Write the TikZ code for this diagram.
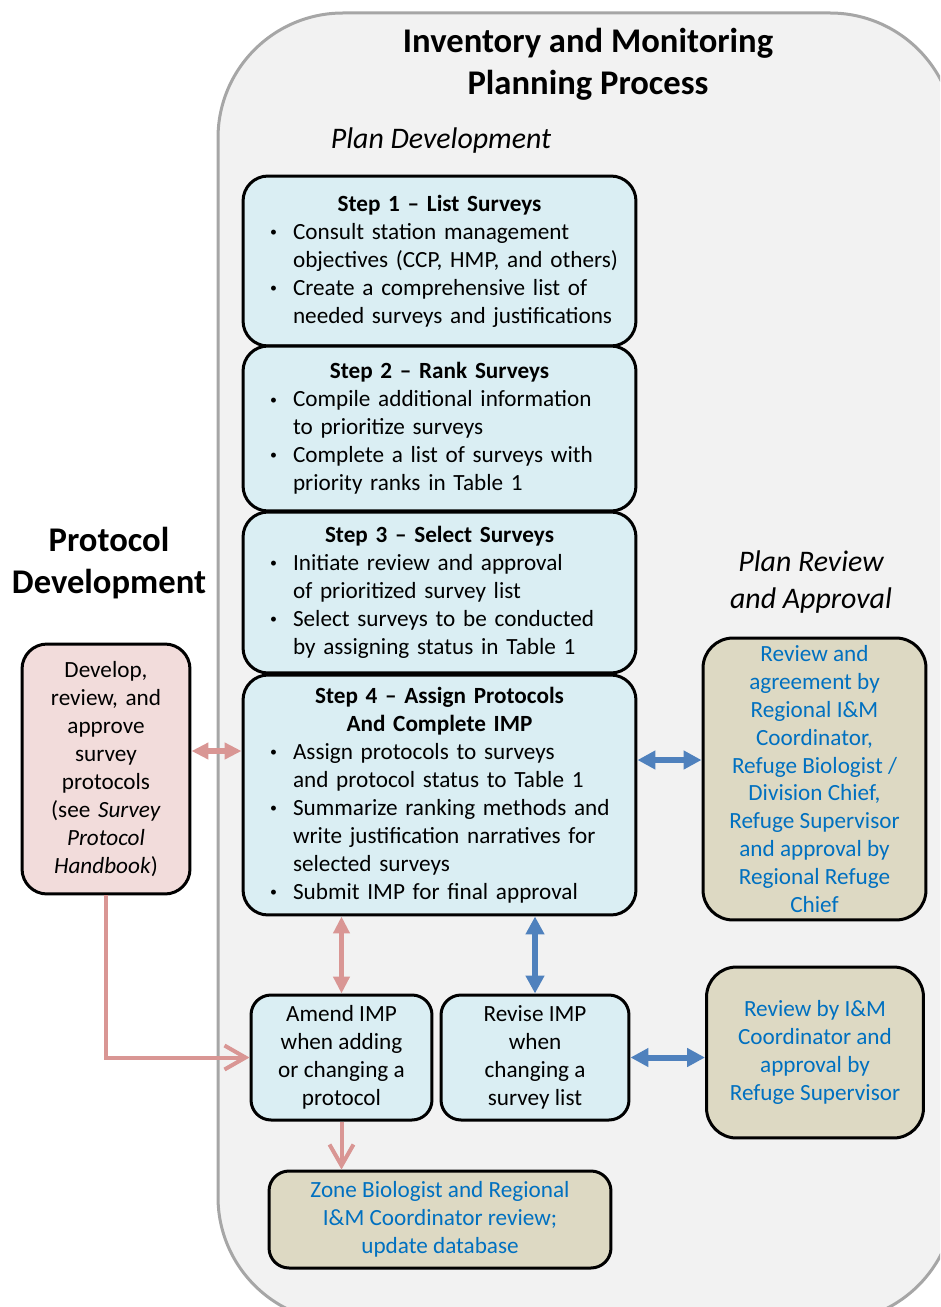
\documentclass[tikz,border=0pt]{standalone}
\usepackage{fontspec}
\setmainfont{Carlito}
\usepackage{enumitem}
\usetikzlibrary{arrows.meta}
\definecolor{panelgray}{RGB}{242,242,242}
\definecolor{panelline}{RGB}{166,166,166}
\definecolor{stepblue}{RGB}{218,238,243}
\definecolor{protpink}{RGB}{242,220,219}
\definecolor{reviewtan}{RGB}{221,217,195}
\definecolor{arrowpink}{RGB}{217,150,148}
\definecolor{arrowblue}{RGB}{79,129,189}
\definecolor{textblue}{RGB}{0,112,192}
\newcommand{\bodyfont}{\fontsize{13.2}{15.9}\selectfont}
\newcommand{\steptitle}[1]{{\centering\bfseries #1\par}}
\newcommand{\smallbullet}{\raisebox{0.12em}{\scalebox{0.6}{\textbullet}}}
\setlist[itemize]{label=\smallbullet, nosep, leftmargin=0.7cm, labelwidth=0.2cm, labelsep=0.26cm, align=left}

\begin{document}
\begin{tikzpicture}[x=0.02cm, y=-0.02cm,
    stepbox/.style={draw, line width=0.06cm, rounded corners=0.5cm, fill=stepblue,
        minimum width=7.86cm, text width=7.26cm, inner xsep=0.3cm, inner ysep=0pt, font=\bodyfont},
    protbox/.style={draw, line width=0.06cm, rounded corners=0.5cm, fill=protpink,
        minimum width=3.36cm, minimum height=5cm, text width=3cm, align=center, font=\bodyfont},
    reviewbox/.style={draw, line width=0.06cm, rounded corners=0.6cm, fill=reviewtan,
        text=textblue, align=center, font=\bodyfont},
    smallbox/.style={draw, line width=0.06cm, rounded corners=0.4cm, fill=stepblue,
        minimum height=2.5cm, align=center, font=\bodyfont},
    pinkdbl/.style={arrowpink, line width=0.11cm,
        {Triangle[length=0.34cm, width=0.32cm]}-{Triangle[length=0.34cm, width=0.32cm]}},
    bluedbl/.style={arrowblue, line width=0.12cm,
        {Triangle[length=0.36cm, width=0.36cm]}-{Triangle[length=0.36cm, width=0.36cm]}},
    pinkarrow/.style={arrowpink, line width=0.08cm, -{Straight Barb[length=0.42cm, width=0.48cm]}},
    heading/.style={font=\fontsize{19.7}{23.9}\selectfont\bfseries, align=center},
    sublabel/.style={font=\fontsize{17}{21}\selectfont\itshape, align=center}]

    \pgfmathsetmacro{\leftCol}{106}
    \pgfmathsetmacro{\stepCol}{439.5}
    \pgfmathsetmacro{\rightCol}{815}

    \clip (0,0) rectangle (940,1307);

    % gray panel behind the planning process
    \draw[panelline, fill=panelgray, line width=0.06cm, rounded corners=2.5cm] (218,13) rectangle (955,1322);

    \node[heading] (title) at (588, 64) {Inventory and Monitoring\\Planning Process};
    \node[sublabel] (plandev) at (441, 141) {Plan Development};
    \node[heading] (protlabel) at (109, 563) {Protocol\\Development};
    \node[sublabel] (reviewlabel) at (811, 582) {Plan Review\\and Approval};

    % the four steps
    \node[stepbox, minimum height=3.4cm] (step1) at (\stepCol, 261) {\steptitle{Step 1 – List Surveys}
        \begin{itemize}
            \item Consult station management\\objectives (CCP, HMP, and others)
            \item Create a comprehensive list of\\needed surveys and justifications
        \end{itemize}};
    \node[stepbox, minimum height=3.3cm] (step2) at (\stepCol, 428.5) {\steptitle{Step 2 – Rank Surveys}
        \begin{itemize}
            \item Compile additional information\\to prioritize surveys
            \item Complete a list of surveys with\\priority ranks in Table 1
        \end{itemize}};
    \node[stepbox, minimum height=3.22cm] (step3) at (\stepCol, 592.5) {\steptitle{Step 3 – Select Surveys}
        \begin{itemize}
            \item Initiate review and approval\\of prioritized survey list
            \item Select surveys to be conducted\\by assigning status in Table 1
        \end{itemize}};
    \node[stepbox, minimum height=4.8cm] (step4) at (\stepCol, 795) {\steptitle{Step 4 – Assign Protocols\\And Complete IMP}
        \begin{itemize}
            \item Assign protocols to surveys\\and protocol status to Table 1
            \item Summarize ranking methods and\\write justification narratives for\\selected surveys
            \item Submit IMP for final approval
        \end{itemize}};

    % protocol development side
    \node[protbox] (prot) at (\leftCol, 769) {Develop,\\review, and\\approve\\survey\\protocols\\(see \textit{Survey}\\\textit{Protocol}\\\textit{Handbook})};

    % review side
    \node[reviewbox, minimum width=4.46cm, minimum height=5.64cm] (review1) at (814.5, 779)
        {Review and\\agreement by\\Regional I\&M\\Coordinator,\\Refuge Biologist /\\Division Chief,\\Refuge Supervisor\\and approval by\\Regional Refuge\\Chief};
    \node[reviewbox, minimum width=4.34cm, minimum height=3.42cm] (review2) at (\rightCol, 1052.5)
        {Review by I\&M\\Coordinator and\\approval by\\Refuge Supervisor};

    % amend and revise
    \node[smallbox, minimum width=3.62cm] (amend) at (341.5, 1057.5) {Amend IMP\\when adding\\or changing a\\protocol};
    \node[smallbox, minimum width=3.76cm] (revise) at (535, 1057.5) {Revise IMP\\when\\changing a\\survey list};
    \node[reviewbox, rounded corners=0.4cm, minimum width=6.84cm, minimum height=1.94cm] (zone) at (440, 1219.5)
        {Zone Biologist and Regional\\I\&M Coordinator review;\\update database};

    % connectors
    \draw[pinkdbl] ([yshift=0.36cm]prot.east) -- ([yshift=0.36cm]prot.east -| step4.west);
    \draw[bluedbl] ([yshift=0.38cm]review1.west) -- ([yshift=0.38cm]review1.west -| step4.east);
    \draw[pinkdbl] (amend.north) -- (amend.north |- step4.south);
    \draw[bluedbl] (revise.north) -- (revise.north |- step4.south);
    \draw[bluedbl] (revise.east) -- (revise.east -| review2.west);
    \draw[pinkarrow] (prot.south) |- (amend.west);
    \draw[pinkarrow] (amend.south) -- (amend.south |- zone.north);

\end{tikzpicture}
\end{document}
